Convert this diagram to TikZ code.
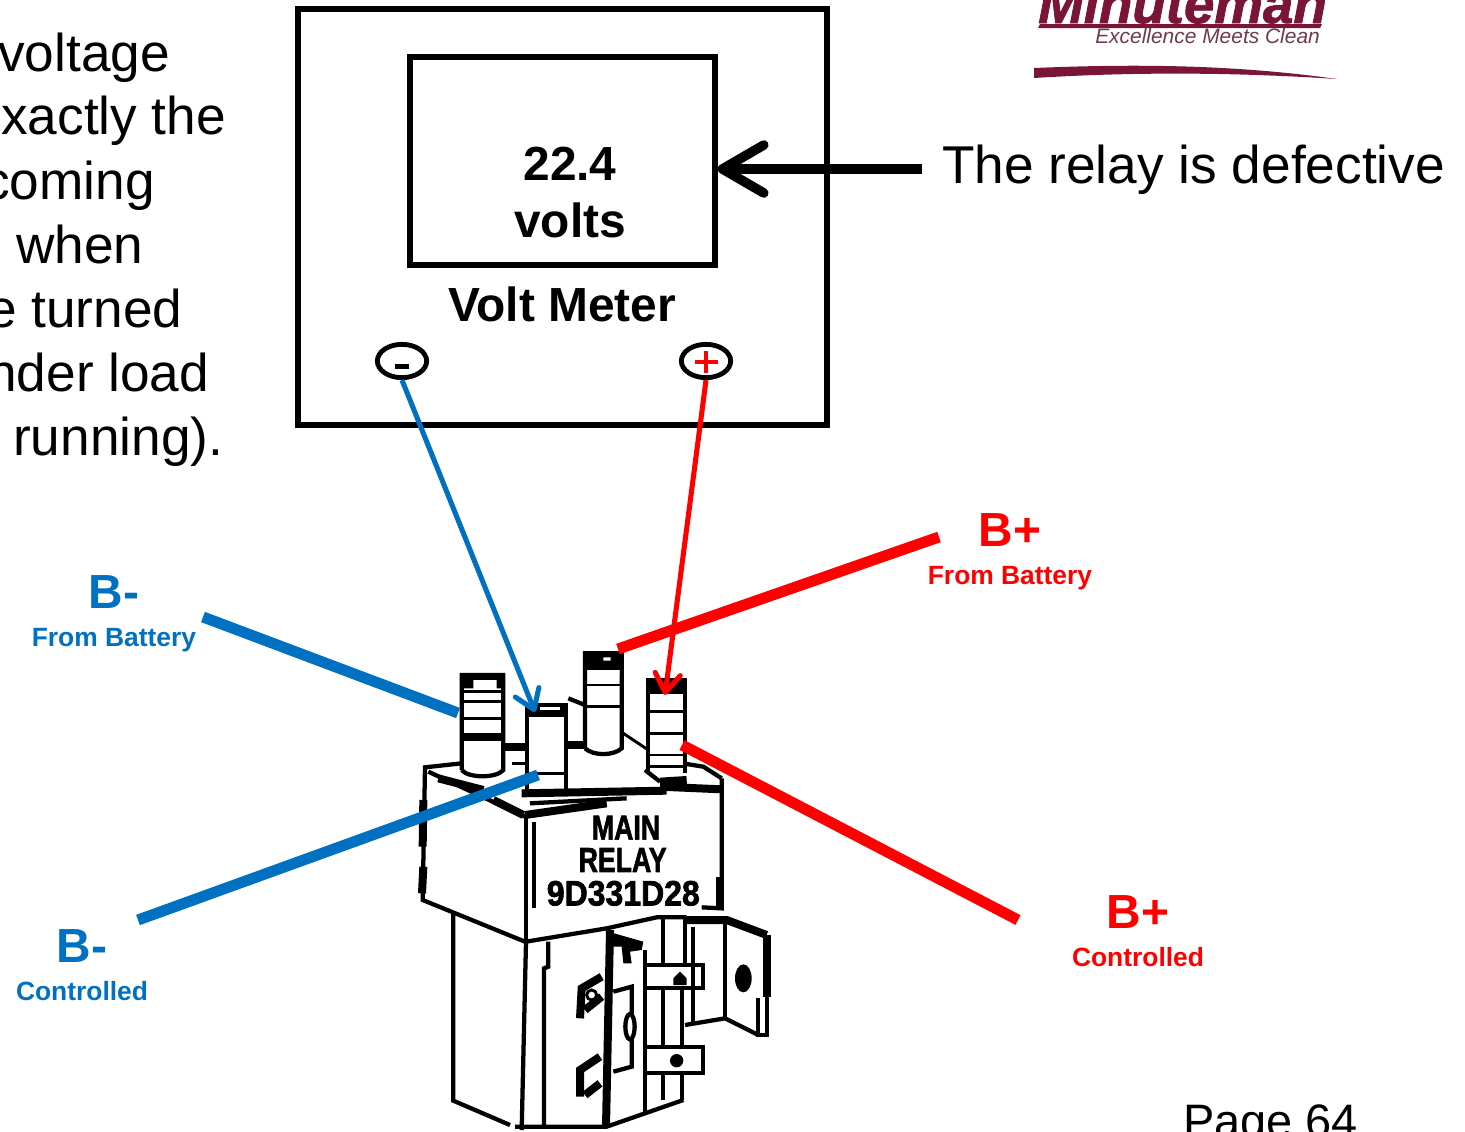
\documentclass[tikz,border=0pt]{standalone}
\usepackage{fontspec}
\setmainfont{Liberation Sans}
\newfontfamily\relayfont[FakeBold=2]{Liberation Sans Bold}
\newfontfamily\logofont[FakeBold=1.5]{Liberation Sans Bold Italic}
\usetikzlibrary{arrows.meta,shapes.geometric}
\definecolor{lblue}{HTML}{0070C0}
\definecolor{lred}{HTML}{FF0000}
\definecolor{maroon}{HTML}{7A1538}
\definecolor{maroonb}{HTML}{6E3A50}
\tikzset{
  body/.style={inner sep=0pt,anchor=base west,font=\fontsize{39.9}{39.9}\selectfont},
  big/.style={inner sep=0pt,font=\bfseries\fontsize{35.9}{35.9}\selectfont},
  small/.style={inner sep=0pt,font=\bfseries\fontsize{19.8}{19.8}\selectfont},
  box/.style={draw=black,line width=3.8pt},
  terminal/.style={draw=black,line width=3.6pt,ellipse,inner sep=0pt,minimum width=37pt,minimum height=25pt},
  thickwire/.style={line width=8.2pt},
  wire/.style={line width=3.8pt,-{Straight Barb[length=14pt,width=19pt,line width=3.8pt,round]}},
  rl/.style={line width=2.2pt},
  rm/.style={line width=3.2pt},
  rb/.style={line width=6pt},
  rtext/.style={inner sep=0pt,transform shape,yscale=1.3,font=\relayfont\fontsize{20}{20}\selectfont},
  rnum/.style={inner sep=0pt,transform shape,yscale=1.1,font=\relayfont\fontsize{24}{24}\selectfont}
}
\begin{document}
\begin{tikzpicture}[x=0.75pt,y=-0.75pt]
\useasboundingbox (0,0) rectangle (1465,1132);
\clip (0,0) rectangle (1465,1132);

% relay drawing, traced in 3x coordinates
\begin{scope}[shift={(400,630)},x=0.25pt,y=-0.25pt]
 \draw[rm] (185,420) -- (185,135) -- (310,135) -- (310,420) .. controls (290,445) and (205,445) .. (185,420);
 \fill (183,133) rectangle (312,150);
 \fill (183,150) rectangle (220,175) (290,150) rectangle (312,175);
 \foreach \yy in {185,215,265,320} \draw[rl] (185,\yy) -- (310,\yy);
 \draw[rb] (185,320) -- (310,320);
 \draw[rm] (380,490) -- (380,225) -- (497,225) -- (497,490);
 \fill (378,225) rectangle (499,262);
 \fill[white] (420,232) rectangle (480,240);
 \draw[rl] (380,430) -- (497,430);
 \draw[rm] (555,355) -- (555,70) -- (665,70) -- (665,355) .. controls (640,378) and (580,378) .. (555,355);
 \fill (553,68) rectangle (667,120);
 \fill[white] (610,82) rectangle (632,92) (565,122) rectangle (658,135);
 \foreach \yy in {165,230} \draw[rl] (555,\yy) -- (665,\yy);
 \draw[rm] (745,430) -- (745,150) -- (855,150) -- (855,430);
 \fill (743,150) rectangle (857,192);
 \foreach \yy in {245,310,375,410} \draw[rl] (745,\yy) -- (855,\yy);
 \draw[rb] (312,352) -- (380,352);
 \draw[rb] (500,345) -- (555,345);
 \draw[rl] (335,400) -- (380,400);
 \draw[rl] (670,310) -- (745,360);
 \draw[rm] (505,205) -- (555,225);
 \draw[rm] (735,420) -- (780,455);
 \draw[rb] (780,455) -- (860,450);
 \draw[rm] (860,402) -- (910,410) -- (965,445);
 \draw[rm] (185,400) -- (75,412) -- (68,810) -- (375,935);
 \draw[rb] (70,510) -- (68,650) (70,710) -- (66,790);
 \draw[rm] (85,425) -- (375,560);
 \draw[rb] (115,445) -- (250,480) (280,510) -- (370,555);
 \draw[rb] (365,490) -- (800,482);
 \draw[rm] (390,520) -- (680,505);
 \draw[rb] (375,555) -- (620,520);
 \draw[rm] (965,445) -- (965,835) -- (905,832);
 \draw[rb] (960,740) -- (960,830);
 \draw[rb] (780,470) -- (965,478);
 \draw[rm] (378,560) -- (378,935);
 \draw[rm] (403,575) -- (403,835);
 \draw[rm] (378,935) -- (620,895) -- (770,862) -- (860,862);
 \draw[rb] (860,870) -- (980,870) -- (1100,915);
 \draw[rm] (160,845) -- (160,1412) -- (330,1485);
 \draw[rm] (378,935) -- (365,1500);
 \draw[rm] (445,935) -- (445,1010) -- (432,1015) -- (432,1485);
 \draw[rm] (345,1490) -- (620,1490) -- (850,1410);
 \draw[rb] (630,900) -- (618,1490);
 \fill (625,905) -- (730,935) -- (725,960) -- (690,965) -- (695,1000) -- (670,1000) -- (665,950) -- (640,950) -- cycle;
 \draw[rm] (735,1005) -- (910,1005) -- (910,1075) -- (735,1075) -- cycle;
 \fill (820,1065) -- (860,1065) -- (860,1045) -- (840,1025) -- (820,1045) -- cycle;
 \draw[rm] (735,1250) -- (910,1250) -- (910,1330) -- (735,1330) -- cycle;
 \fill (830,1292) circle[radius=20];
 \draw[rm] (735,960) -- (735,1005) (790,865) -- (790,1005) (855,860) -- (855,1005) (880,890) -- (880,1185);
 \draw[rm] (735,1075) -- (735,1250) (790,1075) -- (790,1250) (845,1075) -- (845,1250);
 \draw[rm] (735,1330) -- (735,1450) (790,1330) -- (790,1410) (845,1330) -- (845,1410);
 \draw[rb] (1100,915) -- (1100,1100);
 \draw[rm] (1100,1100) -- (1100,1215) -- (1075,1215) -- (1075,1105);
 \draw[rm] (975,870) -- (975,1165);
 \draw[rm] (855,1185) -- (975,1165) -- (1075,1215);
 \fill (1030,1045) ellipse[x radius=25,y radius=42];
 \draw[rb] (605,1040) -- (545,1075) -- (540,1165);
 \draw[rb] (605,1100) -- (555,1140);
 \draw[rl] (575,1095) circle[radius=15];
 \draw[rb] (600,1280) -- (540,1320) -- (540,1400);
 \draw[rb] (600,1360) -- (555,1395);
 \draw[rm] (640,1085) -- (695,1070) -- (695,1310) -- (640,1325);
 \draw[rm,fill=white] (690,1190) ellipse[x radius=14,y radius=38];
 \node[rtext] (rtone) at (678,593) {MAIN};
 \node[rtext] (rttwo) at (668,690) {RELAY};
 \node[rnum] (rtthree) at (670,790) {9D331D28};
\end{scope}

% left text
\node[body] (ta) at (-2,71) {voltage};
\node[body] (tb) at (1,134) {xactly the};
\node[body] (tc) at (-17,199) {coming};
\node[body] (td) at (16,263) {when};
\node[body] (te) at (-13,327) {e turned};
\node[body] (tf) at (-13,391) {nder load};
\node[body] (tg) at (13,455) {running).};

% meter
\coordinate (mtl) at (298,9);
\coordinate (mbr) at (827,425);
\draw[box] (mtl) rectangle (mbr);
\coordinate (itl) at (410,57);
\coordinate (ibr) at (715,265);
\draw[box] (itl) rectangle (ibr);
\node[big] (val) at (570,163.5) {22.4};
\node[big] (vol) at (570,220.5) {volts};
\node[big] (vm) at (562,304.5) {Volt Meter};
\node[terminal] (neg) at (402,361) {};
\node[terminal] (pos) at (706,361) {};
\fill[black] (395,364) rectangle (409,369);
\draw[lred,line width=2.6pt] (695,362) -- (718,362) (706,351) -- (706,373);

% defect callout
\node[body] (defect) at (942,183) {The relay is defective};
\coordinate (defectstart) at (922,169);
\draw[line width=7.2pt,shorten >=2pt,-{Straight Barb[length=31pt,width=36pt,line width=7.2pt,round]}] (defectstart) -- (ibr |- defectstart);

% wires
\coordinate (blueend) at (535,712);
\coordinate (redend) at (665,695);
\draw[lblue,wire] (neg.south) -- (blueend);
\draw[lred,wire] (pos.south) -- (redend);

% thick leads
\coordinate (bpa) at (939,537); \coordinate (bpb) at (618,649);
\coordinate (bma) at (203,617); \coordinate (bmb) at (458,713);
\coordinate (bca) at (138,920); \coordinate (bcb) at (538,775);
\coordinate (pca) at (1018,920); \coordinate (pcb) at (682,745);
\draw[lred,thickwire] (bpa) -- (bpb);
\draw[lblue,thickwire] (bma) -- (bmb);
\draw[lblue,thickwire] (bca) -- (bcb);
\draw[lred,thickwire] (pca) -- (pcb);

% labels
\node[big,text=lred] (lbpa) at (1010,530) {B+};
\node[small,text=lred] (lbpb) at (1010,578) {From Battery};
\node[big,text=lblue] (lbma) at (114,592) {B-};
\node[small,text=lblue] (lbmb) at (114,640) {From Battery};
\node[big,text=lblue] (lbca) at (82,946) {B-};
\node[small,text=lblue] (lbcb) at (82,991) {Controlled};
\node[big,text=lred] (lpca) at (1138,912) {B+};
\node[small,text=lred] (lpcb) at (1138,957) {Controlled};

% page
\node[body,font=\fontsize{35.2}{35.2}\selectfont] (page) at (1183,1137) {Page 64};

% logo
\node[inner sep=0pt,anchor=base west,text=maroon,font=\logofont\fontsize{41}{41}\selectfont] (logo) at (1038,23) {Minuteman};
\fill[maroon] (1040,24) -- (1322,24) -- (1320,28) -- (1038,28) -- cycle;
\node[inner sep=0pt,anchor=base west,text=maroonb,font=\itshape\fontsize{15.7}{15.7}\selectfont] (tagline) at (1095,43) {Excellence Meets Clean};
\fill[maroon] (1034,68) .. controls (1130,64) and (1230,64) .. (1337,79) .. controls (1230,72) and (1130,72) .. (1034,78) -- cycle;
\end{tikzpicture}
\end{document}
